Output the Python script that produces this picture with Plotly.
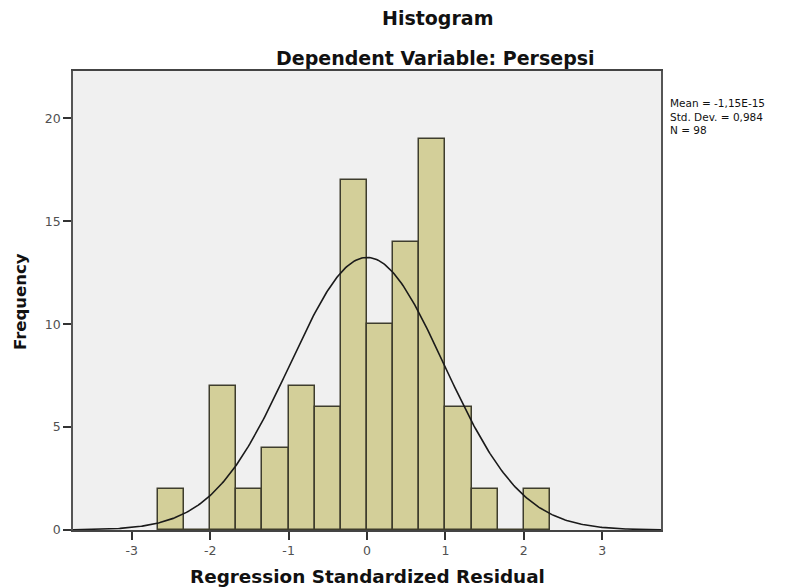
import numpy as np
import plotly.graph_objects as go

# Histogram bins (left edges) and counts
bin_width = 1/3
bin_left = [-8/3, -7/3, -2, -5/3, -4/3, -1, -2/3, -1/3, 0, 1/3, 2/3, 1, 4/3, 5/3, 2]
counts   = [2,    0,    7,  2,    4,    7,  6,    17,   10, 14,  19,  6, 2,   0,   2]

# Summary statistics shown on the chart
mean = -1.15e-15
std_dev = 0.984
n_obs = 98
stats_lines = ["Mean = -1,15E-15", "Std. Dev. = 0,984", "N = 98"]

x_ticks = [-3, -2, -1, 0, 1, 2, 3]
y_ticks = [0, 5, 10, 15, 20]

centers = [b + bin_width / 2 for b in bin_left]

# Fitted normal curve scaled to counts
xc = np.linspace(-3.75, 3.75, 400)
yc = n_obs * bin_width * np.exp(-0.5 * ((xc - mean) / std_dev) ** 2) / (std_dev * np.sqrt(2 * np.pi))

# page body has an 8px margin; figure is laid out in page pixel terms below
BODY = 8
W, H = 793 - BODY, 587 - BODY
L, T, PW, PH = 65, 63, 588, 459


def px(xp):
    return (xp - BODY - L) / PW


def py(yp):
    return 1 - (yp - BODY - T) / PH


fig = go.Figure()
fig.add_trace(go.Bar(
    x=centers, y=counts, width=bin_width,
    marker=dict(color="#d3cf99", line=dict(color="#3e3d2d", width=1.5)),
    hoverinfo="x+y", showlegend=False,
))
fig.add_trace(go.Scatter(
    x=xc, y=yc, mode="lines",
    line=dict(color="#1a1a1a", width=1.6),
    showlegend=False, hoverinfo="skip",
))

tfont = "DejaVu Sans, Arial, sans-serif"

annotations = [
    dict(text="<b>Histogram</b>", x=px(437), y=py(18), xanchor="center", yanchor="middle",
         font=dict(size=19, family=tfont, color="#111111")),
    dict(text="<b>Dependent Variable: Persepsi</b>", x=px(435), y=py(58), xanchor="center", yanchor="middle",
         font=dict(size=19, family=tfont, color="#111111")),
    dict(text="<b>Regression Standardized Residual</b>", x=px(367), y=py(576), xanchor="center", yanchor="middle",
         font=dict(size=18.4, family=tfont, color="#111111")),
    dict(text="<b>Frequency</b>", x=px(20), y=py(302), xanchor="center", yanchor="middle", textangle=-90,
         font=dict(size=16.5, family=tfont, color="#111111")),
    dict(text="<br>".join(stats_lines), x=px(668), y=py(95), xanchor="left", yanchor="top", align="left",
         font=dict(size=10.5, family=tfont, color="#111111")),
]
for a in annotations:
    a.update(xref="paper", yref="paper", showarrow=False)

fig.update_layout(
    width=W, height=H,
    margin=dict(l=L, r=W - L - PW, t=T, b=H - T - PH, autoexpand=False),
    paper_bgcolor="white",
    plot_bgcolor="#f0f0f0",
    bargap=0,
    font=dict(family=tfont, color="#505050"),
    xaxis=dict(
        range=[-3.75, 3.75],
        tickvals=x_ticks, ticktext=[str(t) for t in x_ticks],
        ticks="outside", ticklen=8, tickwidth=1.5, tickcolor="#333333",
        tickfont=dict(size=12.5, color="#505050"),
        showgrid=False, zeroline=False, automargin=False,
        showline=True, linecolor="#444444", linewidth=1.6, mirror=True,
    ),
    yaxis=dict(
        range=[0, 22.3],
        tickvals=y_ticks, ticktext=[str(t) for t in y_ticks],
        ticks="outside", ticklen=8, tickwidth=1.5, tickcolor="#333333",
        tickfont=dict(size=12.5, color="#505050"),
        showgrid=False, zeroline=False, automargin=False,
        showline=True, linecolor="#555555", linewidth=1.6, mirror=True,
    ),
    annotations=annotations,
)

fig.write_html("out.html")
